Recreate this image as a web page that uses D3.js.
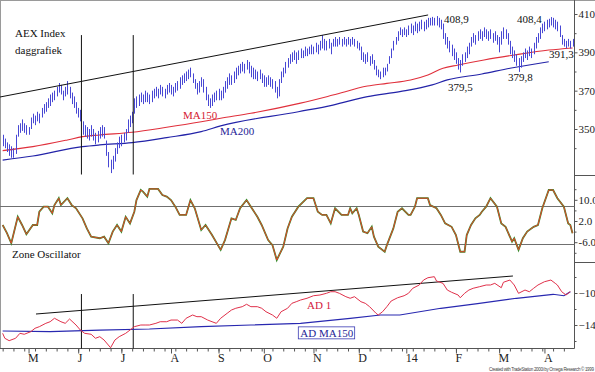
<!DOCTYPE html>
<html>
<head>
<meta charset="utf-8">
<script src="https://cdn.jsdelivr.net/npm/d3@7"></script>
<style>
  body { margin: 0; background: #fff; }
  svg { display: block; font-family: 'Liberation Serif', 'Times New Roman', serif; }
</style>
</head>
<body>
<div class="chart"></div>
<script>
// daily AEX bars, index 0 = 15 Apr 2013, one step per trading day up to 17 Apr 2014
const barHigh = [
  347,345,343,342,341,340,347,352,353,355, 353,352,351,356,358,357,359,358,361,363,
  364,366,368,369,370,372,374,373,370,372, 375,372,369,367,364,361,360,354,352,351,
  350,352,350,348,349,351,352,351,344,338, 334,336,340,343,346,347,348,350,355,357,
  359,366,367,368,369,368,370,369,368,370, 371,372,371,373,372,371,373,374,373,372,
  374,375,377,378,379,380,381,382,379,376, 374,375,377,376,372,368,366,368,369,370,
  371,370,372,375,377,379,378,380,382,383, 384,385,384,386,385,383,382,381,380,381,
  379,378,377,378,377,376,375,372,376,380, 382,385,387,389,390,391,390,391,392,391,
  393,392,393,394,393,395,394,396,399,397, 396,397,395,397,398,397,398,397,398,397,
  398,397,398,397,396,395,393,390,389,390, 388,389,386,383,381,380,382,382,384,388,
  392,396,398,401,403,402,403,402,404,405, 404,406,405,406,407,406,407,408,408,408.5,
  408,408.9,408,407,405,400,398,396,394,392, 390,387,386,389,390,393,395,398,400,399,
  401,402,401,403,402,401,402,400,401,399, 398,401,403,402,400,396,393,391,389,387,
  388,390,392,391,393,392,395,398,400,403, 405,406,407,407.5,408.4,408,407,406,404,399,
  397,396,397,396,397
];
const barLow = [
  341,340,338,336,335,335,337,346,348,349, 348,347,347,350,353,352,354,353,356,358,
  359,361,362,364,365,367,369,368,365,367, 368,366,363,361,358,356,354,347,346,345,
  344,346,344,342,343,345,346,345,336,330, 327,329,333,337,340,341,343,344,348,351,
  353,358,361,362,364,363,364,364,363,364, 366,367,366,368,367,366,368,369,368,367,
  369,370,371,373,374,375,376,377,374,371, 368,369,372,369,365,362,361,362,364,365,
  365,365,366,369,371,373,373,374,376,378, 379,380,379,381,379,377,376,376,375,376,
  374,372,372,373,372,371,369,366,367,374, 377,379,382,384,385,386,384,386,387,387,
  388,388,389,389,389,390,389,391,392,391, 391,392,389,393,393,393,394,393,394,393,
  394,393,394,393,392,391,386,385,384,385, 383,384,381,378,377,376,377,378,380,384,
  387,391,394,396,399,398,399,398,399,400, 399,401,400,401,402,401,402,403,404,404,
  404,404,403,402,397,394,392,390,388,386, 384,381,379.5,383,385,387,389,393,395,394,
  396,397,396,398,397,396,397,395,396,394, 390,394,397,397,394,389,387,385,383,379.8,
  382,385,387,386,388,387,389,392,395,397, 400,401,402,403,404,403,402,401,398,394,
  393,392,393,392,393
];

// moving averages on the price panel (trading-day index, value)
const ma150Idx = [0,14,30,37,45,60,76,92,101,115,138,153,169,178,189,197,204,211,223,237,253,264];
const ma150Val = [338.7,340.8,344.3,346.0,346.9,348.3,350.9,353.8,355.6,358.2,363.5,367.7,372.4,373.8,375.6,378.2,381.7,383.4,386.0,388.6,391.2,392.3];
const ma200Idx = [0,14,37,45,60,76,92,101,137,153,169,184,199,206,222,235,253];
const ma200Val = [333.8,335.9,340.8,341.7,342.9,345.5,348.6,351.6,359.0,362.5,366.9,369.5,373.0,375.6,378.7,381.7,385.1];

// zone oscillator
const oscIdx = [0,2,4,7,9,11,14,16,17,19,21,23,24,26,27,30,32,34,37,39,
  41,45,47,49,51,53,55,57,59,61,62,64,65,67,68,72,74,76,78,80,
  82,85,87,89,92,94,97,101,103,106,108,110,113,115,118,120,123,125,127,130,
  132,134,137,141,144,146,148,150,152,154,157,160,161,162,164,165,167,169,171,172,
  174,177,178,181,183,185,188,189,191,192,197,198,201,203,205,208,210,212,214,215,
  217,219,221,222,224,226,229,231,233,236,237,239,241,243,246,248,250,253,255,257,
  260,262,263,264];
const oscVal = [0.5,-2.6,-6.4,3.6,0.5,-3.0,0.5,0.5,5.5,7.4,
  7.4,4.9,8.0,10.6,8.0,10.6,8.0,6.8,3.0,-0.8,
  -3.9,-4.5,-3.9,-6.4,-2.0,0.5,-2.0,3.6,1.1,5.5,
  9.9,13.7,13.1,11.2,14.1,14.1,11.8,11.2,9.9,7.4,
  4.3,4.3,9.9,6.8,-1.4,0.5,-3.3,-8.9,-5.2,3.0,
  2.4,6.8,9.9,7.4,3.6,0.5,-5.2,-7.1,-12.7,-7.7,
  -0.8,3.6,7.4,10.6,10.6,5.5,4.3,4.3,1.1,6.8,
  4.3,4.3,6.8,4.9,6.8,4.3,-2.0,-2.6,-0.2,-3.9,
  -7.7,-9.6,-7.1,-0.8,5.5,6.8,4.3,4.3,7.4,10.6,
  10.6,8.0,6.8,4.3,1.1,-0.2,-3.3,-9.6,-9.6,-3.3,
  0.5,3.0,4.3,5.5,7.4,10.6,7.4,1.1,-0.2,-5.8,
  -4.5,-8.9,-4.5,-2.0,-0.2,0.5,6.8,13.7,13.7,10.6,
  7.4,1.1,0.5,-2.6];
const oscLevels = [7.7, -6.7];

// advance/decline line and its 150 day average
const adIdx = [0,1,3,6,8,10,13,15,17,20,22,24,27,29,31,34,36,38,41,43,
  45,47,50,52,54,57,59,61,64,66,68,71,73,76,78,81,83,85,88,90,
  92,95,97,99,101,104,106,108,111,113,115,118,120,122,125,127,129,132,134,136,
  138,141,144,147,150,152,154,156,159,161,163,166,168,170,173,174,176,178,180,183,
  186,188,190,193,195,197,200,201,204,206,208,211,212,214,216,218,221,224,226,228,
  231,232,235,237,239,242,244,246,248,251,254,256,257,259,261,262,263];
const adVal = [-150.4,-156.6,-159.6,-156.6,-150.4,-151.6,-148.4,-144.1,-142.1,-137.9,
  -135.9,-131.6,-135.9,-137.9,-132.5,-140,-146.3,-150.4,-151.6,-156.6,
  -154.6,-158.8,-168.4,-158.8,-154.6,-150.4,-146.3,-142.1,-140,-140,
  -140,-137.9,-135.9,-135.9,-133.8,-133.8,-137.9,-131.6,-127.5,-129.6,
  -129.6,-133.8,-135.9,-137.9,-131.6,-125.4,-121.3,-119.1,-117.1,-114.1,
  -117.1,-117.1,-119.1,-123.4,-127.5,-131.6,-123.4,-119.1,-112.9,-110.9,
  -108.8,-106.6,-103.4,-102.5,-100.4,-98.4,-98.4,-100.4,-104.6,-106.6,
  -104.6,-110.9,-112.9,-117.1,-125.4,-127.5,-123.4,-117.1,-110,-105.9,
  -103.4,-100.4,-94.1,-90,-83.8,-80.9,-79.6,-85,-87.9,-96.3,
  -99.1,-102.5,-105.9,-100.4,-96.3,-94.1,-92.1,-90,-90,-87.9,
  -93.4,-86.6,-83.8,-90,-100.4,-96.3,-98.4,-94.1,-90,-85.9,
  -83.8,-87.9,-90,-98.4,-102.5,-100.4,-98.4];
const adMaIdx = [0,22,45,68,92,115,138,161,175,184,203,220,238,255,260,263];
const adMaVal = [-147.5,-148.4,-146.3,-145,-142.1,-140,-137.9,-131.6,-127.5,-127.5,-119.1,-113.4,-106.6,-101.6,-103.4,-98.4];

// trendlines and marker days
const priceTrend = [[-1.2, 366.7], [197.1, 409.5]];
const adTrend = [[15.45, -126.25], [236.4, -78.75]];
const markerDays = [36.5, 60.5];

// axis ticks
const monthStart = [12,35,55,78,100,121,144,165,187,210,230,251];
const monthLabels = ['M','J','J','A','S','O','N','D','14','F','M','A'];
const priceTicks = [350, 370, 390, 410];
const priceMinor = [340, 360, 380, 400];
const oscTicks = [-6, 2, 10];
const oscTickLabels = ['-6.0', '2.0', '10.0'];
const oscMinor = [-10, -2, 6, 14];
const adTicks = [-140, -100];
const adMinor = [-160, -120, -80];

const priceNotes = [
  { t: '408,9', i: 204.5, v: 407.4 },
  { t: '408,4', i: 238.3, v: 407.4 },
  { t: '391,3', i: 253.1, v: 389.1 },
  { t: '379,8', i: 234.1, v: 377.1 },
  { t: '379,5', i: 206.3, v: 371.9 }
];

// layout
const width = 595;
const height = 372;
const axisX = 574.5;
const axisY = 348.5;

const svg = d3.select('.chart').append('svg')
  .attr('width', width)
  .attr('height', height);

const x = d3.scaleLinear().domain([0, 264]).range([2.65, 572.5]);
const yPrice = d3.scaleLinear().domain([350, 410]).range([129, 14]);
const yOsc = d3.scaleLinear().domain([-6, 10]).range([242.2, 199.8]);
const yAd = d3.scaleLinear().domain([-140, -100]).range([325, 293]);

// frame
svg.append('line').attr('x1', 0).attr('x2', width).attr('y1', 0.5).attr('y2', 0.5)
  .attr('stroke', '#9a9a9a');
svg.append('line').attr('x1', 0.5).attr('x2', 0.5).attr('y1', 0).attr('y2', axisY)
  .attr('stroke', '#9a9a9a');
svg.append('line').attr('x1', axisX).attr('x2', axisX).attr('y1', 0).attr('y2', axisY)
  .attr('stroke', '#555');
svg.append('line').attr('x1', 0).attr('x2', axisX).attr('y1', axisY).attr('y2', axisY)
  .attr('stroke', '#555');
[175.5, 262.5].forEach(y => {
  svg.append('line').attr('x1', axisX).attr('x2', width).attr('y1', y).attr('y2', y)
    .attr('stroke', '#555');
});

const line = (xs, ys, yScale) => d3.line()
  .x((d, k) => x(xs[k]))
  .y((d, k) => yScale(ys[k]))(xs);

// price panel
svg.append('path')
  .attr('d', d3.line().curve(d3.curveMonotoneX)
    .x((d, k) => x(ma200Idx[k])).y((d, k) => yPrice(ma200Val[k]))(ma200Idx))
  .attr('fill', 'none').attr('stroke', '#2323a8').attr('stroke-width', 1.2);
svg.append('path')
  .attr('d', d3.line().curve(d3.curveMonotoneX)
    .x((d, k) => x(ma150Idx[k])).y((d, k) => yPrice(ma150Val[k]))(ma150Idx))
  .attr('fill', 'none').attr('stroke', '#e0303c').attr('stroke-width', 1.1);

svg.append('g')
  .selectAll('line')
  .data(barHigh)
  .enter()
  .append('line')
  .attr('x1', (d, k) => Math.round(x(k)) + 0.5)
  .attr('x2', (d, k) => Math.round(x(k)) + 0.5)
  .attr('y1', d => yPrice(d))
  .attr('y2', (d, k) => yPrice(barLow[k]))
  .attr('stroke', '#4848d4')
  .attr('stroke-width', 1);

svg.append('line')
  .attr('x1', x(priceTrend[0][0])).attr('y1', yPrice(priceTrend[0][1]))
  .attr('x2', x(priceTrend[1][0])).attr('y2', yPrice(priceTrend[1][1]))
  .attr('stroke', '#111').attr('stroke-width', 1);

markerDays.forEach(d => {
  svg.append('line')
    .attr('x1', x(d)).attr('x2', x(d))
    .attr('y1', yPrice(399)).attr('y2', 174.5)
    .attr('stroke', '#111');
  svg.append('line')
    .attr('x1', x(d)).attr('x2', x(d))
    .attr('y1', yAd(-101.3)).attr('y2', axisY)
    .attr('stroke', '#111');
});

// oscillator panel
oscLevels.forEach(v => {
  svg.append('line')
    .attr('x1', 0).attr('x2', axisX)
    .attr('y1', Math.round(yOsc(v)) + 0.5).attr('y2', Math.round(yOsc(v)) + 0.5)
    .attr('stroke', '#707070');
});
svg.append('path').attr('d', line(oscIdx, oscVal, yOsc))
  .attr('fill', 'none').attr('stroke', '#3c8a2c').attr('stroke-width', 1.8);
svg.append('path').attr('d', line(oscIdx, oscVal, yOsc))
  .attr('fill', 'none').attr('stroke', '#e2452c').attr('stroke-width', 1);

// AD panel
svg.append('line')
  .attr('x1', x(adTrend[0][0])).attr('y1', yAd(adTrend[0][1]))
  .attr('x2', x(adTrend[1][0])).attr('y2', yAd(adTrend[1][1]))
  .attr('stroke', '#111');
svg.append('path').attr('d', line(adMaIdx, adMaVal, yAd))
  .attr('fill', 'none').attr('stroke', '#2828b0').attr('stroke-width', 1.2);
svg.append('path').attr('d', line(adIdx, adVal, yAd))
  .attr('fill', 'none').attr('stroke', '#e0304a').attr('stroke-width', 1);

// right axes
const styleAxis = g => {
  g.select('.domain').remove();
  g.selectAll('line').attr('stroke', '#555');
  g.selectAll('text')
    .attr('fill', '#222')
    .style('font-family', "'Liberation Serif', serif")
    .style('font-size', '11px');
};
const rightAxis = (scale, values, fmt, size) => {
  svg.append('g')
    .attr('transform', `translate(${axisX},0)`)
    .call(d3.axisRight(scale).tickValues(values).tickSize(size).tickPadding(1).tickFormat(fmt))
    .call(styleAxis);
};
rightAxis(yPrice, priceTicks, d3.format('d'), 3);
rightAxis(yPrice, priceMinor, '', 2);
rightAxis(yOsc, oscTicks, (d, k) => oscTickLabels[k], 3);
rightAxis(yOsc, oscMinor.filter(v => yOsc(v) > 177 && yOsc(v) < 260), '', 2);
rightAxis(yAd, adTicks, d3.format('d'), 3);
rightAxis(yAd, adMinor, '', 2);

// time axis
svg.append('g')
  .attr('transform', `translate(0,${axisY})`)
  .call(d3.axisBottom(x).tickValues(d3.range(0, 265, 5)).tickSize(3).tickFormat(''))
  .call(styleAxis);
svg.append('g')
  .attr('transform', `translate(0,${axisY})`)
  .call(d3.axisBottom(x).tickValues(monthStart).tickSize(5).tickPadding(0)
    .tickFormat((d, k) => monthLabels[k]))
  .call(styleAxis)
  .call(g => g.selectAll('text')
    .attr('text-anchor', 'start')
    .attr('x', -1)
    .style('font-size', '12px'));

// labels
const label = (txt, px, py, color) => svg.append('text')
  .attr('x', px).attr('y', py).attr('dy', '0.35em')
  .attr('fill', color)
  .style('font-size', '11px')
  .text(txt);

label('AEX Index', 15, 33, '#111');
label('daggrafiek', 15, 50, '#111');
label('Zone Oscillator', 12, 254, '#111');

priceNotes.forEach(n => label(n.t, x(n.i), yPrice(n.v), '#111'));
label('MA150', x(83.6), yPrice(357.3), '#d42030');
label('MA200', x(100.7), yPrice(349.0), '#1e1e96');
label('AD 1', x(141), yAd(-115), '#d42040');

const adMaLabel = label('AD MA150', x(137.9), yAd(-150), '#1e1e96');
const bb = adMaLabel.node().getBBox();
svg.append('rect')
  .attr('x', bb.x - 2).attr('y', bb.y)
  .attr('width', bb.width + 3).attr('height', bb.height)
  .attr('fill', 'none')
  .attr('stroke', '#3a3ab4')
  .attr('stroke-width', 0.8);

svg.append('text')
  .attr('x', 489).attr('y', 370.5)
  .attr('textLength', 105)
  .attr('fill', '#444')
  .style('font-family', "'Liberation Sans', Arial, sans-serif")
  .style('font-size', '4.5px')
  .text('Created with TradeStation 2000i by Omega Research \u00a9 1999');
</script>
</body>
</html>
